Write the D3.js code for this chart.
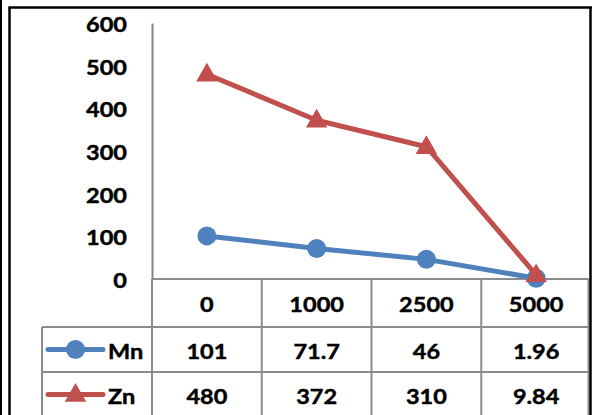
<!DOCTYPE html>
<html>
<head>
<meta charset="utf-8">
<script src="https://cdn.jsdelivr.net/npm/d3@7"></script>
<style>
  html, body { margin: 0; padding: 0; background: #fff; }
  svg { display: block; }
  text { font-family: Lato, "Open Sans", sans-serif; font-weight: bold; fill: #000; stroke: #000; stroke-width: 0.45px; }
</style>
</head>
<body>
<svg id="chart" width="592" height="415"></svg>
<script>
// Doses along the x axis
const categories = ["0", "1000", "2500", "5000"];
// Concentrations per metal
const mnValues = [101, 71.7, 46, 1.96];
const znValues = [480, 372, 310, 9.84];
const seriesNames = ["Mn", "Zn"];
const yTicks = [0, 100, 200, 300, 400, 500, 600];

const series = [
  { name: seriesNames[0], values: mnValues, color: "#4F81BD", marker: "circle" },
  { name: seriesNames[1], values: znValues, color: "#C0504D", marker: "triangle" }
];

const W = 592, H = 415;
const svg = d3.select("#chart");

const plotLeft = 152, plotRight = 591, plotTop = 23, plotBottom = 279;
const rowH = [48, 45, 45];
const tableLeft = 42, tableRight = 588.5;

const x = d3.scaleBand().domain(categories).range([plotLeft, plotRight]);
const y = d3.scaleLinear().domain([0, 600]).range([plotBottom, plotTop]);
const xc = c => x(c) + x.bandwidth() / 2;

const fontSize = 21;
const stretch = 1.12;

function label(g, tx, ty, str, anchor) {
  return g.append("text")
    .attr("transform", `translate(${tx},${ty}) scale(${stretch},1)`)
    .attr("text-anchor", anchor || "middle")
    .attr("dominant-baseline", "central")
    .style("font-size", fontSize + "px")
    .text(str);
}

// Y axis: line plus tick labels, no gridlines
const yAxis = d3.axisLeft(y).tickValues(yTicks).tickSize(0).tickPadding(25);
const yg = svg.append("g").attr("transform", `translate(${plotLeft},0)`).call(yAxis);
yg.select(".domain").attr("stroke", "#868686").attr("stroke-width", 2);
yg.selectAll(".tick text").remove();
yTicks.forEach(t => label(svg, plotLeft - 25, y(t) + 1, String(t), "end"));

// Data table grid
const grid = svg.append("g").attr("stroke", "#8c8c8c").attr("stroke-width", 2).attr("fill", "none");
const r0 = plotBottom, r1 = r0 + rowH[0], r2 = r1 + rowH[1], r3 = r2 + rowH[2];
grid.append("line").attr("x1", plotLeft).attr("x2", tableRight).attr("y1", r0).attr("y2", r0);
[r1, r2, r3].forEach(r => grid.append("line").attr("x1", tableLeft).attr("x2", tableRight).attr("y1", r).attr("y2", r));
categories.forEach(c => grid.append("line").attr("x1", x(c)).attr("x2", x(c)).attr("y1", r0).attr("y2", H));
grid.append("line").attr("x1", tableRight).attr("x2", tableRight).attr("y1", r0).attr("y2", H);
grid.append("line").attr("x1", tableLeft).attr("x2", tableLeft).attr("y1", r1).attr("y2", H);

// Header row: category labels
categories.forEach(c => label(svg, xc(c), (r0 + r1) / 2 + 1, c));

const triangle = d3.symbol().type(d3.symbolTriangle).size(200);

function drawMarker(g, s, cx, cy) {
  if (s.marker === "circle") {
    g.append("circle").attr("cx", cx).attr("cy", cy).attr("r", 9.5).attr("fill", s.color);
  } else {
    g.append("path").attr("d", triangle).attr("transform", `translate(${cx},${cy + 1})`).attr("fill", s.color);
  }
}

// Series rows: legend key, name, values
const rowMid = [(r1 + r2) / 2, (r2 + r3) / 2];
series.forEach((s, i) => {
  const cy = rowMid[i];
  const key = svg.append("g");
  key.append("line").attr("x1", 48).attr("x2", 103).attr("y1", cy).attr("y2", cy)
    .attr("stroke", s.color).attr("stroke-width", 5).attr("stroke-linecap", "round");
  drawMarker(key, s, 75.5, cy);
  label(svg, 108, cy + 1, s.name, "start");
  s.values.forEach((v, j) => label(svg, xc(categories[j]), cy + 1, String(v)));
});

// Lines and markers
const line = d3.line().x((d, j) => xc(categories[j])).y(d => y(d));
series.forEach(s => {
  const g = svg.append("g");
  g.append("path").datum(s.values).attr("d", line)
    .attr("fill", "none").attr("stroke", s.color).attr("stroke-width", 5).attr("stroke-linejoin", "round");
  s.values.forEach((v, j) => drawMarker(g, s, xc(categories[j]), y(v)));
});

// Outer frame
const frame = svg.append("g").attr("stroke", "#000").attr("fill", "none");
frame.append("line").attr("x1", 1).attr("x2", 1).attr("y1", 0).attr("y2", H).attr("stroke-width", 2);
frame.append("line").attr("x1", 9.5).attr("x2", 9.5).attr("y1", 7).attr("y2", H).attr("stroke-width", 2.5);
frame.append("line").attr("x1", 8.5).attr("x2", 592).attr("y1", 7.5).attr("y2", 7.5).attr("stroke-width", 2.5);
frame.append("line").attr("x1", 590.5).attr("x2", 590.5).attr("y1", 7).attr("y2", H).attr("stroke-width", 2.5);
</script>
</body>
</html>
